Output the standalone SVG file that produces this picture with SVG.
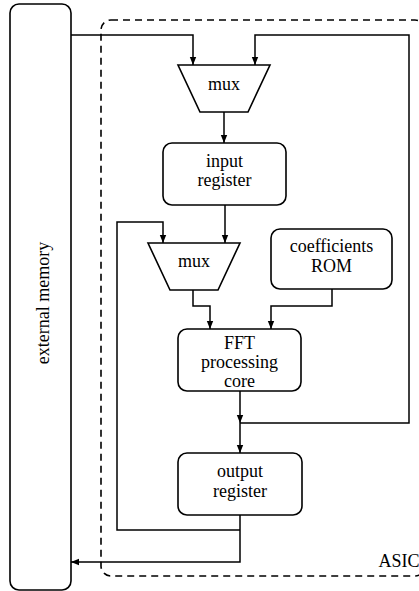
<svg xmlns="http://www.w3.org/2000/svg" width="419" height="591" viewBox="0 0 419 591">
<style>
.box{fill:#fff;stroke:#000;stroke-width:1.6}
.ln{fill:none;stroke:#000;stroke-width:1.5}
.t{font-family:"Liberation Serif","Times New Roman",serif;font-size:18px;text-anchor:middle;fill:#000}
</style>
<defs>
<marker id="ah" viewBox="0 0 10 10" refX="10" refY="5" markerWidth="8" markerHeight="8" markerUnits="userSpaceOnUse" orient="auto">
<path d="M0,1 L10,5 L0,9 Z" fill="#000"/>
</marker>
</defs>
<g id="asic">
<rect x="101" y="20" width="324" height="556" rx="10" fill="none" stroke="#000" stroke-width="1.6" stroke-dasharray="7,5"/>
<text class="t" x="399" y="567" font-size="17">ASIC</text>
</g>
<g id="external-memory">
<rect class="box" x="10" y="4" width="61" height="586" rx="9"/>
<text class="t" transform="translate(49,303) rotate(-90)">external memory</text>
</g>
<g id="connectors">
<path class="ln" d="M71,35 H193 V65" marker-end="url(#ah)"/>
<path class="ln" d="M240,423 H409 V35 H255 V65" marker-end="url(#ah)"/>
<path class="ln" d="M224,112 V143" marker-end="url(#ah)"/>
<path class="ln" d="M225,205 V243" marker-end="url(#ah)"/>
<path class="ln" d="M240,530 H117 V222 H163 V243" marker-end="url(#ah)"/>
<path class="ln" d="M193,290 V306 H210 V329" marker-end="url(#ah)"/>
<path class="ln" d="M332,289 V306 H271 V329" marker-end="url(#ah)"/>
<path class="ln" d="M240,391 V423" marker-end="url(#ah)"/>
<path class="ln" d="M240,423 V453" marker-end="url(#ah)"/>
<path class="ln" d="M240,515 V562 H71" marker-end="url(#ah)"/>
</g>
<g id="mux1">
<polygon class="box" points="178,65 270,65 248,112 200,112"/>
<text class="t" x="224" y="90">mux</text>
</g>
<g id="input-register">
<rect class="box" x="163" y="143" width="123" height="62" rx="9"/>
<text class="t" x="224.5" y="167">input</text>
<text class="t" x="224.5" y="186">register</text>
</g>
<g id="mux2">
<polygon class="box" points="148,243 240,243 218,290 170,290"/>
<text class="t" x="194" y="267">mux</text>
</g>
<g id="coefficients-rom">
<rect class="box" x="271" y="229" width="121" height="60" rx="9"/>
<text class="t" x="331.5" y="252">coefficients</text>
<text class="t" x="331.5" y="272">ROM</text>
</g>
<g id="fft-core">
<rect class="box" x="178" y="329" width="123" height="62" rx="9"/>
<text class="t" x="239.5" y="349" font-size="17">FFT</text>
<text class="t" x="239.5" y="368" font-size="17">processing</text>
<text class="t" x="239.5" y="387" font-size="17">core</text>
</g>
<g id="output-register">
<rect class="box" x="178" y="453" width="124" height="62" rx="9"/>
<text class="t" x="240" y="477">output</text>
<text class="t" x="240" y="497">register</text>
</g>
</svg>
